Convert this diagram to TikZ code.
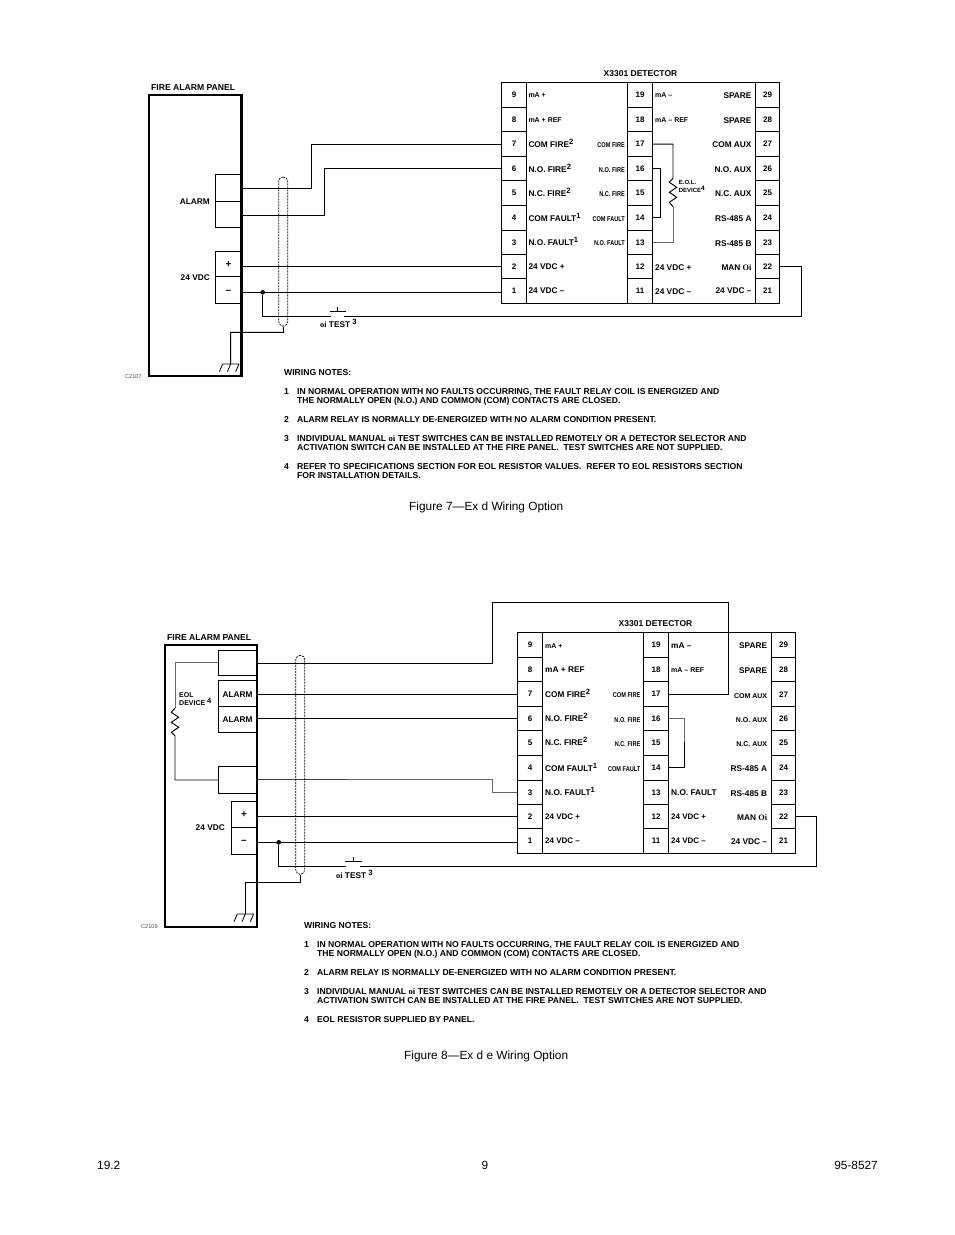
\documentclass[tikz,border=0pt]{standalone}
\usepackage{fontspec}
\usepackage{graphicx}
\setmainfont{Liberation Sans}
\newfontfamily\serifo{Liberation Serif}
\newcounter{lbl}
\newcommand\fsz[1]{\fontsize{#1}{9}\selectfont}
\tikzset{
  lab/.style={inner sep=0pt,yshift=-1pt,font=\bfseries\fsz{8.3}},
  captxt/.style={font=\fsz{11.85},yshift=-1pt},
  cell/.style={draw=black,line width=1pt,minimum width=24.5pt,inner sep=0pt,font=\bfseries\fsz{8}},
  frame/.style={draw=black,line width=1.3pt,inner sep=0pt},
  panelA/.style={draw=black,line width=2.8pt,inner sep=0pt},
  panelB/.style={draw=black,line width=2pt,inner sep=0pt},
  pbox/.style={draw=black,line width=1pt,inner sep=0pt},
  wire/.style={draw=black,line width=.95pt},
  gwire/.style={draw=black!60,line width=1pt},
  shield/.style={draw=black,line width=.7pt,dash pattern=on 2pt off 1pt,rounded corners=4.4pt,inner sep=0pt,minimum width=9pt},
  note/.style={inner sep=0pt,yshift=-.8pt,anchor=north west,align=left,font=\bfseries\fsz{8.62}},
  dotn/.style={circle,fill=black,inner sep=0pt,minimum size=4.6pt}
}
\newcommand\txtL[4][]{\stepcounter{lbl}\node[lab,anchor=mid west,#1] (t\thelbl) at (#2,#3) {#4};}
\newcommand\txtR[4][]{\stepcounter{lbl}\node[lab,anchor=mid east,#1] (t\thelbl) at (#2,#3) {#4};}
\newcommand\txtC[4][]{\stepcounter{lbl}\node[lab,anchor=mid,#1] (t\thelbl) at (#2,#3) {#4};}
\newcommand\upn[1]{\raisebox{.32em}{\fsz{7.6}#1}}
\newcommand\scond[1]{\scalebox{.8}[1]{\fsz{7}#1}}
\newcommand\smal[1]{{\fsz{7}#1}}
\newcommand\detcells[1]{%
  \foreach \l/\m/\r/\t/\b in {9/19/29/82.7/107.3,8/18/28/107.3/131.7,7/17/27/131.7/156.7,6/16/26/156.7/180.7,5/15/25/180.7/205.3,4/14/24/205.3/230,3/13/23/230/254.7,2/12/22/254.7/278.7,1/11/21/278.7/303.3}{%
    \node[cell,minimum height={\b-\t}] (#1\l) at (514,{(\t+\b)/2}) {\l};
    \node[cell,minimum height={\b-\t}] (#1\m) at (640,{(\t+\b)/2}) {\m};
    \node[cell,minimum height={\b-\t}] (#1\r) at (767.6,{(\t+\b)/2}) {\r};
  }%
}
\newcommand\gnd[2]{\draw[line width=.8pt] (#1-8,#2) -- (#1+8.3,#2)
  (#1-8,#2) ++(0,0) -- ++(-3.3,7.7)
  (#1,#2) -- ++(-3.3,7.7)
  (#1+8.3,#2) -- ++(-3.3,7.7);}
\begin{document}
\begin{tikzpicture}[x=1pt,y=-1pt]
\fill[white] (0,0) rectangle (954,1235);
\useasboundingbox (0,0) rectangle (954,1235);

%% ---------- Figure 7 ----------
\node[panelA,minimum width=92.7pt,minimum height=281pt] (P1) at (195.3,235.5) {};
\node[pbox,minimum width=26pt,minimum height=27pt] (P1a) at (228.5,187.8) {};
\node[pbox,minimum width=26pt,minimum height=25.7pt] (P1b) at (228.5,214.2) {};
\node[pbox,minimum width=26pt,minimum height=25pt] (P1p) at (228.5,263.8) {};
\node[pbox,minimum width=26pt,minimum height=27pt] (P1m) at (228.5,289.8) {};
\coordinate (w1a) at (242,188.3);
\coordinate (w1b) at (242,215);
\coordinate (w1p) at (242,266.3);
\coordinate (w1m) at (242,292.3);
\node[frame,minimum width=277.6pt,minimum height=220.6pt] (Af) at (640.5,193) {};
\detcells{A}
\draw[wire] (w1a) -- (311.3,188.3) |- (A7.west);
\draw[wire] (w1b) -- (324,215) |- (A6.west);
\draw[wire] (w1p) -- (w1p -| A2.west);
\draw[wire] (w1m) -- (w1m -| A1.west);
\node[dotn] (D1) at (262.7,292.3) {};
\coordinate (s1l) at (331,316.3);
\coordinate (s1r) at (344,316.3);
\draw[wire] (D1) |- (s1l);
\draw[wire] (s1r) -- (801.7,316.3) |- (A22.east);
\draw[line width=.8pt] (329.5,311.5) -- (346,311.5) (337.5,311.5) -- (337.5,307);
\node[shield,minimum height=149pt] (S1) at (283.2,251.5) {};
\coordinate (g1) at (230.7,364);
\draw[wire] (S1.south) -- (283.7,332.3) -| (g1);
\gnd{230.7}{364}
\draw[wire] (A17.east) -| (673,178.3) -- ++(-3.7,4) -- ++(7.4,5) -- ++(-7.4,5) -- ++(7.4,5) -- ++(-7.4,5) -- ++(3.7,4.4);
\draw[gwire] (673,206.7) |- (A13.east);
\draw[wire] (A16.east) -- (660.7,168.7) |- (A14.east);

\txtL[font=\bfseries\fsz{8.6}]{151}{87}{FIRE ALARM PANEL}
\txtR{210}{201}{ALARM}
\txtR{210}{277}{24 VDC}
\txtC[font=\bfseries\fsz{10}]{228.5}{264}{+}
\txtC[font=\bfseries\fsz{10}]{228.5}{290}{–}
\txtL[font=\fsz{5.6},text=black!70]{125}{375}{C2107}
\txtL{320}{324}{{\serifo oi} TEST \upn{3}}
\txtC[font=\bfseries\fsz{8.5}]{640.5}{73}{X3301 DETECTOR}
% left labels
\txtL{528.3}{94.3}{\smal{mA +}}
\txtL{528.3}{119}{\smal{mA + REF}}
\txtL{528.3}{143.6}{COM FIRE\upn{2}}
\txtL{528.3}{168.6}{N.O. FIRE\upn{2}}
\txtL{528.3}{193}{N.C. FIRE\upn{2}}
\txtL{528.3}{217.6}{COM FAULT\upn{1}}
\txtL{528.3}{242}{N.O. FAULT\upn{1}}
\txtL{528.3}{266}{24 VDC +}
\txtL{528.3}{289.5}{24 VDC –}
\txtR{625}{144}{\scond{COM FIRE}}
\txtR{625}{169}{\scond{N.O. FIRE}}
\txtR{625}{193}{\scond{N.C. FIRE}}
\txtR{625}{217.5}{\scond{COM FAULT}}
\txtR{625}{242}{\scond{N.O. FAULT}}
% mid labels
\txtL{655}{94}{\smal{mA –}}
\txtL{655}{119}{\smal{mA – REF}}
\txtL{655}{267}{24 VDC +}
\txtL{655}{291}{24 VDC –}
\txtL[font=\bfseries\fsz{6}]{678.7}{180.7}{E.O.L.}
\txtL[font=\bfseries\fsz{6}]{678.7}{188.7}{DEVICE\raisebox{.3em}{\fsz{6.5}4}}
% right labels
\txtR{751.7}{95}{SPARE}
\txtR{751.7}{120}{SPARE}
\txtR{751.7}{144}{COM AUX}
\txtR{751.7}{169}{N.O. AUX}
\txtR{751.7}{193}{N.C. AUX}
\txtR{751.7}{218}{RS-485 A}
\txtR{751.7}{243}{RS-485 B}
\txtR{751.7}{267}{MAN {\serifo Oi}}
\txtR{751.7}{290}{24 VDC –}
% notes
\node[note] (n1h) at (284,368) {WIRING NOTES:};
\node[note] (n11) at (284,387) {\vphantom{O}1};
\node[note] (n1t1) at (297,387) {IN NORMAL OPERATION WITH NO FAULTS OCCURRING, THE FAULT RELAY COIL IS ENERGIZED AND\\THE NORMALLY OPEN (N.O.) AND COMMON (COM) CONTACTS ARE CLOSED.};
\node[note] (n12) at (284,415) {\vphantom{O}2};
\node[note] (n1t2) at (297,415) {ALARM RELAY IS NORMALLY DE-ENERGIZED WITH NO ALARM CONDITION PRESENT.};
\node[note] (n13) at (284,434) {\vphantom{O}3};
\node[note] (n1t3) at (297,434) {INDIVIDUAL MANUAL {\serifo oi} TEST SWITCHES CAN BE INSTALLED REMOTELY OR A DETECTOR SELECTOR AND\\ACTIVATION SWITCH CAN BE INSTALLED AT THE FIRE PANEL.~ TEST SWITCHES ARE NOT SUPPLIED.};
\node[note] (n14) at (284,462) {\vphantom{O}4};
\node[note] (n1t4) at (297,462) {REFER TO SPECIFICATIONS SECTION FOR EOL RESISTOR VALUES.~ REFER TO EOL RESISTORS SECTION\\FOR INSTALLATION DETAILS.};
\txtL[captxt]{409}{506}{Figure 7—Ex d Wiring Option}

%% ---------- Figure 8 ----------
\node[panelB,minimum width=91.8pt,minimum height=281.7pt] (P2) at (210.9,785.8) {};
\node[pbox,minimum width=38.7pt,minimum height=25pt] (P2t) at (237.7,662.8) {};
\node[pbox,minimum width=38.7pt,minimum height=25.6pt] (P2a) at (237.7,693.5) {};
\node[pbox,minimum width=38.7pt,minimum height=26pt] (P2b) at (237.7,719.3) {};
\node[pbox,minimum width=38.7pt,minimum height=26.6pt] (P2f) at (237.7,780) {};
\node[pbox,minimum width=25.7pt,minimum height=26pt] (P2p) at (244.2,814.3) {};
\node[pbox,minimum width=25.7pt,minimum height=27pt] (P2m) at (244.2,840.8) {};
\coordinate (w2t) at (257.5,663.3);
\coordinate (w2a) at (257.5,694.3);
\coordinate (w2b) at (257.5,718.3);
\coordinate (w2f) at (257.5,779.7);
\coordinate (w2p) at (257.5,816.3);
\coordinate (w2m) at (257.5,842.3);
\begin{scope}[shift={(16,550)}]
\node[frame,minimum width=277.6pt,minimum height=220.6pt] (Bf) at (640.5,193) {};
\detcells{B}
\end{scope}
\draw[wire] (w2t) -- (492.7,663.3) -- (492.7,602.3) -- (728.7,602.3) |- (B17.east);
\draw[wire] (w2a) -- (w2a -| B7.west);
\draw[wire] (w2b) -- (w2b -| B6.west);
\draw[line width=.8pt,black!75] (w2f) -- (347,779.7);
\draw[gwire] (347,779.7) -- (492.7,779.7) |- (B3.west);
\draw[wire] (w2p) -- (w2p -| B2.west);
\draw[wire] (w2m) -- (w2m -| B1.west);
\node[dotn] (D2) at (278.7,842.3) {};
\coordinate (s2l) at (346,866.3);
\coordinate (s2r) at (360,866.3);
\draw[wire] (D2) |- (s2l);
\draw[wire] (s2r) -- (816,866.3) |- (B22.east);
\draw[line width=.8pt] (345,861.7) -- (361.7,861.7) (353.3,861.7) -- (353.3,856.7);
\node[shield,minimum height=219pt] (S2) at (300.3,764.8) {};
\coordinate (g2) at (245.3,914);
\draw[wire] (S2.south) -- (300.3,882.3) -| (g2);
\gnd{245.3}{914}
\draw[gwire] (P2t.west) -- (175,662.8) -- (175,708.3);
\draw[wire] (175,708.3) -- ++(-3.7,4) -- ++(7.4,5) -- ++(-7.4,5) -- ++(7.4,5) -- ++(-7.4,5) -- ++(3.7,3.4) |- (P2f.west);
\draw[gwire] (B16.east) -| (684.7,742);
\draw[wire,line width=.8pt] (684.7,742) |- (B14.east);

\txtL[font=\bfseries\fsz{8.6}]{167}{637}{FIRE ALARM PANEL}
\txtC{237.5}{694}{ALARM}
\txtC{237.5}{719}{ALARM}
\txtL[font=\bfseries\fsz{7}]{179}{694}{EOL}
\txtL[font=\bfseries\fsz{7}]{179}{702}{DEVICE \upn{4}}
\txtR{225}{827}{24 VDC}
\txtC[font=\bfseries\fsz{10}]{244}{814}{+}
\txtC[font=\bfseries\fsz{10}]{244}{840}{–}
\txtL[font=\fsz{5.6},text=black!70]{141}{925}{C2109}
\txtL{336}{875}{{\serifo oi} TEST \upn{3}}
\txtC[font=\bfseries\fsz{8.5}]{655.5}{623}{X3301 DETECTOR}
\txtL{545}{645}{\smal{mA +}}
\txtL{545}{669}{mA + REF}
\txtL{545}{693.6}{COM FIRE\upn{2}}
\txtL{545}{717.6}{N.O. FIRE\upn{2}}
\txtL{545}{742}{N.C. FIRE\upn{2}}
\txtL{545}{767.6}{COM FAULT\upn{1}}
\txtL{545}{792}{N.O. FAULT\upn{1}}
\txtL{545}{816}{\fsz{8}24 VDC +}
\txtL{545}{840}{\fsz{8}24 VDC –}
\txtR{640.5}{694}{\scond{COM FIRE}}
\txtR{640.5}{718.5}{\scond{N.O. FIRE}}
\txtR{640.5}{743}{\scond{N.C. FIRE}}
\txtR{640.5}{768}{\scond{COM FAULT}}
\txtL{671}{645}{mA –}
\txtL{671}{669}{\smal{mA – REF}}
\txtL{671}{792}{N.O. FAULT}
\txtL{671}{816}{\fsz{8}24 VDC +}
\txtL{671}{840}{\fsz{8}24 VDC –}
\txtR{767.3}{645}{SPARE}
\txtR{767.3}{670}{SPARE}
\txtR{767.3}{694.5}{\smal{COM AUX}}
\txtR{767.3}{718.5}{\smal{N.O. AUX}}
\txtR{767.3}{743}{\smal{N.C. AUX}}
\txtR{767.3}{768}{RS-485 A}
\txtR{767.3}{793}{RS-485 B}
\txtR{767.3}{817}{MAN {\serifo Oi}}
\txtR{767.3}{840.5}{24 VDC –}
\node[note] (n2h) at (304,921) {WIRING NOTES:};
\node[note] (n21) at (304,940) {\vphantom{O}1};
\node[note] (n2t1) at (317,940) {IN NORMAL OPERATION WITH NO FAULTS OCCURRING, THE FAULT RELAY COIL IS ENERGIZED AND\\THE NORMALLY OPEN (N.O.) AND COMMON (COM) CONTACTS ARE CLOSED.};
\node[note] (n22) at (304,968) {\vphantom{O}2};
\node[note] (n2t2) at (317,968) {ALARM RELAY IS NORMALLY DE-ENERGIZED WITH NO ALARM CONDITION PRESENT.};
\node[note] (n23) at (304,987) {\vphantom{O}3};
\node[note] (n2t3) at (317,987) {INDIVIDUAL MANUAL {\serifo oi} TEST SWITCHES CAN BE INSTALLED REMOTELY OR A DETECTOR SELECTOR AND\\ACTIVATION SWITCH CAN BE INSTALLED AT THE FIRE PANEL.~ TEST SWITCHES ARE NOT SUPPLIED.};
\node[note] (n24) at (304,1015) {\vphantom{O}4};
\node[note] (n2t4) at (317,1015) {EOL RESISTOR SUPPLIED BY PANEL.};
\txtL[captxt]{404}{1055}{Figure 8—Ex d e Wiring Option}

%% ---------- Footer ----------
\txtL[captxt]{97}{1165}{19.2}
\txtC[captxt]{485}{1165}{9}
\txtR[captxt]{878}{1165}{95-8527}
\end{tikzpicture}
\end{document}
